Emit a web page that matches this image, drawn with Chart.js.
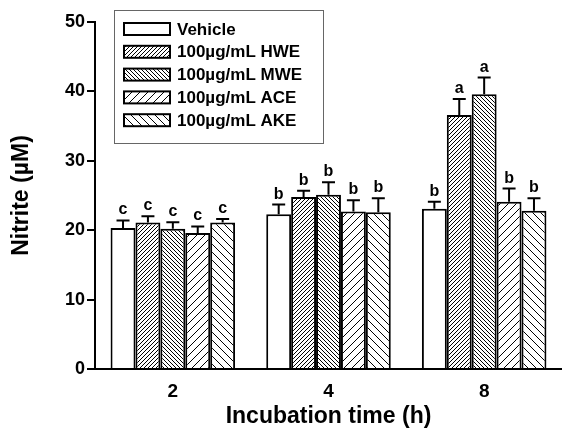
<!DOCTYPE html>
<html lang="en">
<head>
    <meta charset="UTF-8">
    <title>Nitrite vs incubation time</title>
    <script src="https://cdn.jsdelivr.net/npm/chart.js"></script>
    <style>
        html, body { margin: 0; padding: 0; background: #fff; }
        #wrap { width: 562px; height: 432px; }
    </style>
</head>
<body>
    <div id="wrap"><canvas id="nitriteChart"></canvas></div>

    <script>
        // data
        const categories = ['2', '4', '8'];
        const seriesLabels = ['Vehicle', '100µg/mL HWE', '100µg/mL MWE', '100µg/mL ACE', '100µg/mL AKE'];

        const vehicle = [20.3, 22.3, 23.1];
        const hwe     = [21.1, 24.8, 36.6];
        const mwe     = [20.2, 25.1, 39.6];
        const ace     = [19.6, 22.7, 24.1];
        const ake     = [21.1, 22.6, 22.8];

        // SEM (upper only)
        const vehicleErr = [1.1, 1.4, 1.0];
        const hweErr     = [0.9, 0.9, 2.3];
        const mweErr     = [0.95, 1.8, 2.4];
        const aceErr     = [0.95, 1.6, 1.9];
        const akeErr     = [0.5, 2.0, 1.8];

        // significance letters
        const vehicleSig = ['c', 'b', 'b'];
        const hweSig     = ['c', 'b', 'a'];
        const mweSig     = ['c', 'b', 'a'];
        const aceSig     = ['c', 'b', 'b'];
        const akeSig     = ['c', 'b', 'b'];

        const yTicks = [0, 10, 20, 30, 40, 50];

        const FONT = 'Arial, "Liberation Sans", sans-serif';

        // diagonal hatch pattern, dir '/' or '\'
        function hatch(size, dir, lw) {
            const c = document.createElement('canvas');
            c.width = c.height = size;
            const g = c.getContext('2d');
            g.fillStyle = '#fff';
            g.fillRect(0, 0, size, size);
            g.strokeStyle = '#000';
            g.lineWidth = lw;
            g.beginPath();
            if (dir === '/') {
                g.moveTo(0, size); g.lineTo(size, 0);
                g.moveTo(-1, 1); g.lineTo(1, -1);
                g.moveTo(size - 1, size + 1); g.lineTo(size + 1, size - 1);
            } else {
                g.moveTo(0, 0); g.lineTo(size, size);
                g.moveTo(size - 1, -1); g.lineTo(size + 1, 1);
                g.moveTo(-1, size - 1); g.lineTo(1, size + 1);
            }
            g.stroke();
            return g.createPattern(c, 'repeat');
        }

        const fills = ['#ffffff', hatch(4, '/', 1), hatch(4, '\\', 1), hatch(8, '/', 1), hatch(8, '\\', 1)];
        const values = [vehicle, hwe, mwe, ace, ake];
        const errors = [vehicleErr, hweErr, mweErr, aceErr, akeErr];
        const letters = [vehicleSig, hweSig, mweSig, aceSig, akeSig];

        const datasets = seriesLabels.map((label, i) => ({
            label: label,
            data: values[i],
            backgroundColor: fills[i],
            borderColor: '#000',
            borderWidth: 2,
            borderSkipped: 'bottom',
            categoryPercentage: 0.8,
            barPercentage: 1.0
        }));

        // error bars + letters
        const errorBars = {
            id: 'errorBars',
            afterDatasetsDraw(chart) {
                const ctx = chart.ctx;
                const y = chart.scales.y;
                ctx.save();
                ctx.strokeStyle = '#000';
                ctx.lineWidth = 2;
                ctx.fillStyle = '#000';
                ctx.font = 'bold 16px ' + FONT;
                ctx.textAlign = 'center';
                ctx.textBaseline = 'alphabetic';
                chart.data.datasets.forEach((ds, di) => {
                    chart.getDatasetMeta(di).data.forEach((bar, i) => {
                        const top = y.getPixelForValue(ds.data[i] + errors[di][i]);
                        ctx.beginPath();
                        ctx.moveTo(bar.x, bar.y);
                        ctx.lineTo(bar.x, top);
                        ctx.moveTo(bar.x - 6.5, top);
                        ctx.lineTo(bar.x + 6.5, top);
                        ctx.stroke();
                        ctx.fillText(letters[di][i], bar.x, top - 6);
                    });
                });
                ctx.restore();
            }
        };

        // framed legend inside the plot
        const boxLegend = {
            id: 'boxLegend',
            afterDraw(chart) {
                const ctx = chart.ctx;
                const bx = 114.5, by = 10.5, bw = 209, bh = 133;
                ctx.save();
                ctx.fillStyle = '#fff';
                ctx.fillRect(bx, by, bw, bh);
                ctx.strokeStyle = '#666';
                ctx.lineWidth = 1;
                ctx.strokeRect(bx, by, bw, bh);
                ctx.font = 'bold 17px ' + FONT;
                ctx.textBaseline = 'middle';
                ctx.textAlign = 'left';
                chart.data.datasets.forEach((ds, i) => {
                    const cy = 29 + i * 22.8;
                    ctx.fillStyle = ds.backgroundColor;
                    ctx.fillRect(124, cy - 6, 46, 12);
                    ctx.strokeStyle = '#000';
                    ctx.lineWidth = 2;
                    ctx.strokeRect(124, cy - 6, 46, 12);
                    ctx.fillStyle = '#000';
                    ctx.fillText(ds.label, 177, cy + 1);
                });
                ctx.restore();
            }
        };

        const config = {
            type: 'bar',
            data: { labels: categories, datasets: datasets },
            options: {
                responsive: true,
                maintainAspectRatio: false,
                animation: false,
                layout: { padding: { top: 22, right: -3, left: 0, bottom: 0 } },
                plugins: {
                    legend: { display: false },
                    tooltip: { enabled: false }
                },
                scales: {
                    x: {
                        grid: { display: false },
                        border: { color: '#000', width: 2 },
                        ticks: { color: '#000', font: { family: FONT, size: 19, weight: 'bold' }, padding: 3 },
                        title: {
                            display: true,
                            text: 'Incubation time (h)',
                            color: '#000',
                            font: { family: FONT, size: 23, weight: 'bold' },
                            padding: { top: 0, bottom: 2 }
                        },
                        afterFit(scale) { scale.height = 63; }
                    },
                    y: {
                        min: 0,
                        max: 50,
                        afterBuildTicks(scale) { scale.ticks = yTicks.map(v => ({ value: v })); },
                        grid: { drawOnChartArea: false, drawTicks: true, tickLength: 8, color: '#000', lineWidth: 2 },
                        border: { color: '#000', width: 2 },
                        ticks: { color: '#000', font: { family: FONT, size: 18, weight: 'bold' }, padding: 2 },
                        title: {
                            display: true,
                            text: 'Nitrite (µM)',
                            color: '#000',
                            font: { family: FONT, size: 23, weight: 'bold' },
                            padding: { top: 8, bottom: 0 }
                        },
                        afterFit(scale) { scale.width = 95; }
                    }
                }
            },
            plugins: [errorBars, boxLegend]
        };

        const nitriteChart = new Chart(document.getElementById('nitriteChart'), config);
    </script>
</body>
</html>
